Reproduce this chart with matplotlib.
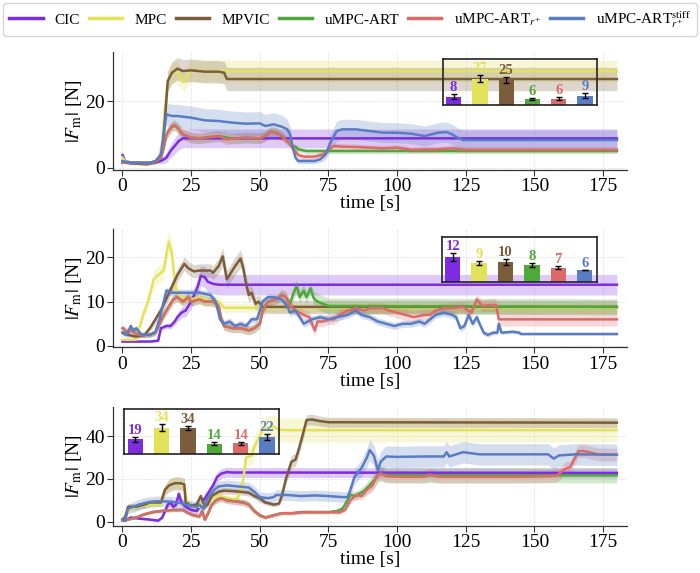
import numpy as np
import matplotlib
matplotlib.use("Agg")
import matplotlib.pyplot as plt

plt.rcParams['font.family'] = ['Liberation Serif', 'DejaVu Serif']
plt.rcParams['mathtext.fontset'] = 'stix'

# ---- series names / colours ----
names = ['CIC', 'MPC', 'MPVIC', 'uMPC-ART', r'uMPC-ART$_{r^{+}}$', r'uMPC-ART$_{r^{+}}^{\mathrm{stiff}}$']
colors = ['#7d2de1', '#e3e35a', '#7b5c3b', '#4fa83a', '#dd6a6a', '#5a7cc2']

# ================= panel 1 =================
T1_CIC = [0, 1, 3, 8, 12, 14, 16, 17.5, 19, 20.5, 22, 180]
Y1_CIC = [3.8, 2.0, 1.5, 1.5, 1.6, 2.0, 3.0, 5.0, 6.5, 8.0, 8.8, 8.8]
S1_CIC = [0.5, 0.4, 0.3, 0.3, 0.4, 0.8, 1.5, 2.0, 2.4, 2.6, 2.8, 2.8]

T1_MPC = [0, 1, 3, 10, 12, 13.5, 14.5, 15.5, 16.5, 18, 20, 21.5, 22.5, 23.5, 25, 30, 35, 180]
Y1_MPC = [3.0, 2.0, 1.5, 1.5, 2.0, 3.0, 8.0, 18.0, 26.0, 28.5, 28.5, 26.5, 26.0, 27.5, 29.0, 29.0, 29.0, 29.0]
S1_MPC = [0.5, 0.4, 0.3, 0.3, 0.5, 0.8, 1.5, 2.5, 3.0, 3.2, 3.2, 3.2, 3.2, 3.2, 3.2, 3.2, 3.2, 3.2]

T1_MPVIC = [0, 1, 3, 9, 12, 13, 14.5, 15.5, 16.5, 18, 20, 22, 25, 30, 35, 37, 38, 40, 180]
Y1_MPVIC = [1.8, 1.5, 1.3, 1.0, 1.5, 2.0, 5.0, 15.0, 26.0, 28.5, 29.7, 29.0, 29.2, 28.8, 28.8, 28.5, 26.6, 26.6, 26.6]
S1_MPVIC = [0.3, 0.3, 0.3, 0.3, 0.4, 0.6, 1.0, 2.0, 3.0, 3.2, 3.4, 3.4, 3.4, 3.4, 3.4, 3.4, 3.5, 3.5, 3.5]

T1_ART = [0, 3, 10, 12, 14, 15, 16, 18, 19, 20, 22, 25, 28, 30, 35, 40, 45, 50, 52, 54, 56, 58, 60, 62, 63, 64, 67, 70, 180]
Y1_ART = [1.5, 1.5, 1.3, 1.8, 3.0, 6.0, 10.0, 12.3, 12.6, 12.0, 10.0, 9.0, 8.8, 9.0, 9.5, 8.7, 9.0, 8.8, 9.5, 10.8, 10.5, 9.5, 8.0, 6.3, 6.3, 5.5, 5.0, 5.0, 5.0]
S1_ART = [0.2, 0.2, 0.2, 0.3, 0.6, 1.0, 1.5, 1.5, 1.5, 1.5, 1.5, 1.5, 1.5, 1.5, 1.5, 1.5, 1.5, 1.5, 1.5, 1.5, 1.5, 1.2, 1.0, 0.8, 0.8, 0.8, 0.8, 0.8, 0.8]

T1_RP = [0, 3, 10, 12, 14, 15, 16, 18, 19, 20, 22, 25, 28, 30, 33, 35, 38, 40, 45, 50, 52, 54, 56, 58, 60, 62, 64, 66, 70, 73,
         75, 77, 80, 85, 90, 95, 100, 105, 110, 115, 120, 125, 180]
Y1_RP = [1.5, 1.5, 1.3, 1.8, 3.0, 6.0, 10.0, 12.5, 12.8, 12.0, 10.0, 9.0, 8.8, 9.0, 9.3, 9.5, 8.5, 8.7, 9.0, 8.8, 9.5, 10.8, 10.5,
         9.5, 8.0, 6.0, 3.8, 3.3, 3.3, 4.0, 5.5, 6.5, 6.3, 6.2, 6.0, 5.8, 6.0, 5.4, 5.5, 5.5, 5.8, 5.4, 5.4]
S1_RP = [0.2, 0.2, 0.2, 0.3, 0.6, 1.0, 1.5, 1.6, 1.6, 1.6, 1.6, 1.6, 1.6, 1.6, 1.6, 1.6, 1.6, 1.6, 1.6, 1.6, 1.6, 1.6, 1.6,
         1.5, 1.2, 1.0, 0.8, 0.8, 0.8, 0.8, 0.8, 0.9, 0.9, 0.9, 0.9, 0.9, 0.9, 0.9, 0.9, 0.9, 0.9, 0.9, 0.9]

T1_ST = [0, 3, 10, 12, 14, 15, 16, 18, 20, 25, 30, 35, 40, 45, 50, 52, 55, 58, 60, 61, 62, 63, 64, 66, 70, 72, 74, 76, 78,
         80, 85, 90, 95, 100, 105, 110, 115, 118, 120, 122, 124, 125, 180]
Y1_ST = [2.0, 1.5, 1.5, 2.0, 4.0, 10.0, 16.0, 15.5, 15.5, 15.0, 14.2, 14.0, 13.5, 13.2, 13.3, 12.5, 13.0, 12.3, 11.5, 10.0,
         6.0, 3.0, 2.0, 2.0, 2.0, 2.5, 4.0, 8.0, 11.0, 11.5, 11.5, 11.0, 10.5, 10.5, 10.2, 9.5, 10.5, 10.7, 10.0, 9.0, 8.3,
         8.3, 8.3]
S1_ST = [0.3, 0.3, 0.3, 0.4, 1.0, 2.0, 3.5, 3.5, 3.5, 3.5, 3.5, 3.5, 3.5, 3.5, 3.5, 3.5, 3.5, 3.5, 3.0, 2.5,
         1.5, 1.0, 0.8, 0.8, 0.8, 1.0, 1.5, 2.5, 3.0, 3.0, 3.0, 3.0, 3.0, 3.0, 3.0, 3.0, 3.0, 3.0, 3.0, 3.0, 3.0,
         3.0, 3.0]

# ================= panel 2 =================
T2_CIC = [0, 5, 10, 13, 14, 16, 17.5, 19, 20, 21.5, 23, 25, 26.5, 27.5, 28.5, 30, 31, 33, 35, 180]
Y2_CIC = [1.0, 1.0, 1.0, 1.2, 4.0, 4.5, 4.5, 5.5, 6.5, 7.5, 8.0, 10.0, 12.0, 13.5, 15.8, 15.5, 14.5, 14.0, 13.8, 13.8]
S2_CIC = [0.2, 0.2, 0.2, 0.3, 0.5, 0.6, 0.7, 0.8, 1.0, 1.2, 1.4, 1.6, 1.8, 2.0, 2.2, 2.3, 2.3, 2.3, 2.3, 2.3]

T2_MPC = [0, 5, 5.6, 7.5, 9.3, 11.3, 13, 15, 16.8, 18, 19.3, 21, 25, 28, 33, 35, 37, 40, 50, 180]
Y2_MPC = [1.4, 1.4, 3.0, 7.0, 10.0, 14.9, 16.0, 17.0, 23.5, 20.9, 13.0, 11.0, 10.5, 11.0, 10.0, 10.0, 8.6, 8.6, 8.6, 8.6]
S2_MPC = [0.3, 0.3, 0.5, 1.0, 1.5, 2.0, 2.0, 2.0, 2.5, 2.5, 2.0, 1.5, 1.2, 1.2, 1.2, 1.2, 1.0, 1.0, 1.0, 1.0]

T2_MPVIC = [0, 2, 5, 8, 10, 12, 14, 17, 18.5, 20, 22.5, 24, 26, 28, 32, 33, 35, 36.5, 38, 39, 41, 43, 44, 45, 46,
            47, 48.5, 49.5, 51, 180]
Y2_MPVIC = [3.0, 2.5, 2.1, 2.5, 4.0, 6.0, 8.0, 12.0, 14.0, 16.0, 18.5, 17.5, 16.8, 17.0, 17.0, 16.5, 18.0, 20.2, 15.0, 16.0,
            18.0, 19.7, 17.5, 14.0, 11.5, 12.0, 9.5, 10.0, 8.8, 8.8]
S2_MPVIC = [0.5, 0.5, 0.5, 0.5, 0.7, 1.0, 1.2, 1.4, 1.5, 1.5, 1.5, 1.5, 1.5, 1.5, 1.5, 1.5, 1.8, 2.0, 2.0, 2.0,
            2.0, 2.0, 2.0, 2.0, 1.8, 1.5, 1.5, 1.5, 1.5, 1.5]

T2_ART = [0, 2, 3, 6, 10, 12, 13.5, 15, 16, 17, 18.5, 20, 22, 24, 25, 28, 30, 33, 35, 36, 37, 40, 43, 46, 48, 50, 51, 53,
          56, 58, 59.5, 61, 62.3, 63.5, 64.5, 66, 67, 68.5, 69.5, 70, 71, 73, 75, 180]
Y2_ART = [4.0, 3.0, 3.5, 2.5, 2.5, 3.0, 5.0, 7.0, 8.0, 9.0, 10.5, 11.0, 10.0, 11.0, 10.0, 10.5, 10.0, 10.0, 9.0, 6.0, 4.5,
          4.0, 4.0, 3.5, 4.0, 5.0, 8.0, 10.0, 10.5, 11.5, 11.0, 9.5, 12.0, 13.5, 11.0, 12.5, 11.0, 13.0, 11.0, 10.5,
          10.0, 9.5, 9.0, 8.8]
S2_ART = [0.8, 0.8, 0.8, 0.6, 0.6, 0.6, 0.8, 1.0, 1.0, 1.0, 1.0, 1.0, 1.0, 1.0, 1.0, 1.0, 1.0, 1.0, 1.0, 1.0, 1.0,
          1.0, 1.0, 1.0, 1.0, 1.0, 1.0, 1.0, 1.0, 1.2, 1.2, 1.3, 1.5, 1.5, 1.5, 1.5, 1.5, 1.5, 1.5, 1.8,
          1.8, 1.8, 1.8, 1.8]

T2_RP = [0, 2, 3, 6, 10, 12, 13.5, 15, 16, 17, 18.5, 20, 22, 24, 25, 28, 30, 33, 35, 36, 37, 40, 43, 46, 48, 50, 51, 53,
         56, 58, 59.5, 61, 63, 66, 68, 70, 71, 73, 75, 77, 79, 82, 85, 88, 90, 95, 97, 100, 103, 106, 110, 112, 114,
         117, 120, 124, 127, 129, 131, 133, 136, 137, 180]
Y2_RP = [4.0, 3.0, 3.5, 2.5, 2.5, 3.0, 5.0, 7.0, 8.0, 9.0, 10.5, 11.0, 10.0, 11.0, 10.0, 10.5, 10.0, 10.0, 9.0, 6.0, 4.5,
         4.0, 4.0, 3.5, 4.0, 5.0, 8.0, 10.0, 10.5, 11.5, 11.0, 9.0, 8.0, 7.0, 6.5, 3.5, 5.5, 5.5, 6.0, 6.0, 7.0, 8.0,
         8.5, 8.0, 8.5, 8.5, 8.0, 7.5, 7.0, 6.5, 7.0, 7.0, 8.0, 8.5, 8.5, 8.8, 7.5, 10.5, 9.0, 9.2, 9.2, 6.0, 6.0]
S2_RP = [0.8, 0.8, 0.8, 0.6, 0.6, 0.6, 0.8, 1.0, 1.0, 1.0, 1.0, 1.0, 1.0, 1.0, 1.0, 1.0, 1.0, 1.0, 1.0, 1.0, 1.0,
         1.0, 1.0, 1.0, 1.0, 1.0, 1.0, 1.0, 1.0, 1.2, 1.2, 1.2, 1.2, 1.2, 1.2, 1.2, 1.2, 1.2, 1.2, 1.2, 1.2, 1.2,
         1.2, 1.2, 1.2, 1.2, 1.2, 1.2, 1.2, 1.2, 1.2, 1.2, 1.2, 1.2, 1.2, 1.2, 1.2, 1.2, 1.3, 1.4, 1.5, 1.5, 1.5]

T2_ST = [0, 1.5, 3, 4, 5, 7, 10, 12, 13.5, 15, 16, 18, 20, 25, 28, 32, 34, 35.5, 37, 39, 41, 43, 45, 47, 49, 50, 51, 53,
         55, 58, 60, 61, 63, 66, 69, 72, 75, 78, 82, 85, 87, 90, 93, 96, 99, 102, 105, 108, 110, 112, 114, 117, 120,
         121.5, 123, 124.5, 126, 127.5, 129, 130, 131.5, 133, 135, 136.5, 137, 138, 142, 144.5, 145, 180]
Y2_ST = [2.9, 2.5, 4.5, 3.5, 4.0, 2.5, 2.5, 3.2, 6.0, 10.0, 12.5, 12.0, 12.0, 12.0, 12.0, 11.5, 10.0, 6.0, 5.0, 5.5,
         4.5, 5.0, 4.5, 6.0, 6.0, 8.0, 10.0, 11.0, 11.0, 10.5, 9.0, 7.5, 8.0, 5.0, 6.0, 6.5, 6.0, 6.5, 7.0, 8.0, 7.0,
         6.5, 5.5, 5.0, 4.5, 5.0, 5.0, 5.5, 5.0, 6.0, 7.0, 7.5, 7.0, 6.5, 4.0, 4.5, 7.0, 5.0, 6.5, 5.0, 3.0, 2.5, 3.0,
         3.0, 5.0, 3.0, 3.2, 3.0, 2.7, 2.7]
S2_ST = [0.5, 0.5, 0.6, 0.6, 0.6, 0.5, 0.5, 0.5, 0.6, 0.8, 0.8, 0.8, 0.8, 0.8, 0.8, 0.8, 0.8, 0.8, 0.8, 0.8,
         0.8, 0.8, 0.8, 0.8, 0.8, 0.8, 0.8, 0.8, 0.8, 0.8, 0.8, 0.8, 0.8, 0.8, 0.8, 0.8, 0.8, 0.8, 0.8, 0.8, 0.8,
         0.8, 0.8, 0.8, 0.8, 0.8, 0.8, 0.8, 0.8, 0.8, 0.8, 0.8, 0.8, 0.8, 0.8, 0.8, 0.8, 0.8, 0.8, 0.8, 0.6, 0.5, 0.5,
         0.5, 0.5, 0.4, 0.4, 0.4, 0.3, 0.3]

# ================= panel 3 =================
T3_CIC = [0, 1, 3, 6, 10, 13, 14.5, 15.5, 16.5, 17.5, 18.5, 19.5, 20.5, 21.5, 23, 25, 27, 28.5, 30, 31.5, 33, 34.5,
          36, 38, 40, 50, 180]
Y3_CIC = [1.0, 0.5, 2.0, 1.5, 1.0, 0.5, 2.0, 5.0, 8.0, 9.0, 7.0, 8.0, 13.0, 9.0, 7.0, 5.5, 5.0, 8.0, 11.0, 14.0, 17.0,
          21.0, 22.5, 23.2, 23.0, 23.0, 22.8]
S3_CIC = [0.3, 0.3, 0.5, 0.5, 0.5, 0.5, 0.8, 1.2, 1.5, 1.8, 1.8, 1.8, 2.0, 2.0, 1.8, 1.5, 1.5, 1.6, 1.8, 2.0, 2.2,
          2.3, 2.3, 2.3, 2.3, 2.3, 2.3]

T3_MPC = [0, 1.5, 3, 6, 10, 14, 15, 17, 19, 21, 22.5, 23.5, 25, 28, 29, 30, 32, 34, 37, 40, 42, 43, 44, 45, 47, 48, 50,
          51, 53, 55, 57, 60, 180]
Y3_MPC = [1.0, 4.0, 6.0, 7.0, 8.0, 8.0, 14.0, 17.0, 18.2, 17.5, 17.0, 9.0, 7.5, 7.0, 9.0, 7.0, 10.0, 12.0, 11.5, 10.5,
          11.0, 15.0, 20.0, 30.0, 31.0, 35.0, 40.0, 43.0, 44.0, 44.5, 43.0, 42.8, 42.8]
S3_MPC = [0.3, 0.8, 1.0, 1.0, 1.0, 1.0, 2.0, 2.5, 3.0, 3.0, 3.0, 1.5, 1.2, 1.2, 1.2, 1.2, 1.2, 1.5, 1.5, 1.5,
          1.5, 2.0, 3.0, 4.0, 4.5, 5.0, 5.5, 5.5, 5.5, 5.5, 5.5, 5.5, 5.5]

T3_MPVIC = [0, 1, 2, 5, 8, 10, 14, 15.5, 17, 19, 21, 22.5, 23, 25, 27, 28.5, 30, 31, 32.5, 35, 37, 40, 43, 46, 48, 50,
            52, 55, 57, 58, 59.5, 61.5, 63, 64, 65.5, 67, 69, 72, 75, 180]
Y3_MPVIC = [1.0, 2.0, 7.0, 7.0, 8.0, 9.0, 9.0, 15.0, 17.0, 18.0, 18.0, 17.5, 9.0, 7.5, 8.0, 12.0, 7.0, 8.0, 12.0, 14.0,
            14.5, 14.3, 14.0, 13.5, 12.0, 11.0, 9.0, 8.0, 8.5, 12.0, 20.0, 28.0, 29.0, 33.0, 40.0, 47.5, 47.8, 47.0, 46.5,
            46.3]
S3_MPVIC = [0.3, 0.5, 1.5, 1.5, 1.5, 1.5, 1.5, 2.5, 3.0, 3.0, 3.0, 3.0, 1.5, 1.2, 1.2, 1.5, 1.2, 1.2, 1.5, 1.5,
            1.5, 1.5, 1.5, 1.5, 1.5, 1.5, 1.2, 1.0, 1.0, 1.5, 2.5, 3.0, 3.0, 3.0, 3.0, 2.5, 2.5, 2.3, 2.3,
            2.3]

T3_ART = [0, 2, 5, 8, 11, 14, 18, 22, 24, 26, 28, 29, 30, 31, 32.5, 34, 36, 38, 41, 44, 46, 48, 50, 52, 55, 58, 62,
          65, 70, 75, 78, 80, 81, 83, 85, 86, 88, 90, 92, 93, 94, 96, 180]
Y3_ART = [0.5, 1.0, 2.0, 3.5, 4.5, 5.0, 5.5, 5.5, 4.0, 3.0, 2.5, 5.0, 1.0, 3.5, 8.0, 10.0, 11.0, 10.0, 9.5, 9.0, 8.0,
          5.0, 3.0, 2.0, 3.0, 4.0, 4.0, 4.5, 4.5, 4.5, 5.0, 6.0, 8.0, 12.5, 12.0, 13.0, 14.5, 17.0, 20.0, 22.0, 22.5,
          21.8, 21.7]
S3_ART = [0.3, 0.4, 0.5, 0.6, 0.7, 0.8, 0.8, 0.8, 0.8, 0.8, 0.8, 1.0, 1.0, 1.0, 1.2, 1.5, 1.5, 1.5, 1.5, 1.5, 1.5,
          1.2, 1.0, 0.8, 0.8, 0.8, 0.8, 0.8, 0.8, 0.8, 0.8, 1.0, 1.5, 2.0, 2.0, 2.0, 2.5, 3.0, 3.5, 3.5, 3.5,
          3.5, 3.5]

T3_RP = [0, 2, 5, 8, 11, 14, 18, 22, 24, 26, 28, 29, 30, 31, 32.5, 34, 36, 38, 41, 44, 46, 48, 50, 52, 55, 58, 62, 66,
         70, 75, 79, 81, 83, 85, 87, 89, 91, 93, 94, 96, 100, 110, 112, 115, 130, 145, 155, 158, 160, 161.5, 163, 164,
         166, 168, 170, 173, 180]
Y3_RP = [0.5, 1.0, 2.0, 3.5, 4.5, 5.0, 5.5, 5.5, 4.0, 3.0, 2.5, 5.0, 1.0, 3.5, 8.0, 10.0, 11.0, 10.0, 9.5, 9.0, 8.0,
         5.0, 3.0, 2.0, 3.0, 4.0, 4.0, 4.5, 4.5, 4.5, 4.3, 5.5, 10.0, 12.5, 12.0, 15.0, 17.0, 22.0, 22.5, 21.3, 21.0,
         21.0, 22.0, 21.0, 21.0, 21.0, 21.3, 21.5, 23.5, 25.0, 25.5, 28.0, 33.0, 33.0, 32.5, 31.5, 31.3]
S3_RP = [0.3, 0.4, 0.5, 0.6, 0.7, 0.8, 0.8, 0.8, 0.8, 0.8, 0.8, 1.0, 1.0, 1.0, 1.2, 1.5, 1.5, 1.5, 1.5, 1.5, 1.5,
         1.2, 1.0, 0.8, 0.8, 0.8, 0.8, 0.8, 0.8, 0.8, 0.8, 1.0, 1.5, 2.0, 2.0, 2.5, 3.0, 3.0, 3.0, 3.0, 3.0,
         3.0, 3.0, 3.0, 3.0, 3.0, 3.0, 3.0, 3.0, 3.0, 3.0, 3.0, 3.0, 3.0, 3.0, 3.0, 3.0]

T3_ST = [0, 1, 2, 4, 6, 9, 12, 16, 20, 22, 25, 27, 28, 29.5, 31, 33.5, 35, 38, 42, 46, 48, 50, 53, 55, 56, 60, 65, 70,
         75, 80, 82, 83, 84.5, 87, 89, 90, 91.5, 93, 94, 96, 100, 110, 117, 118, 119, 124, 127, 130, 155, 157, 159,
         165, 180]
Y3_ST = [1.0, 0.5, 6.0, 7.0, 8.0, 9.0, 9.5, 9.5, 9.0, 8.5, 7.5, 7.0, 8.0, 6.0, 11.0, 15.0, 16.5, 17.0, 16.5, 16.0, 14.0,
         11.5, 11.0, 11.5, 12.5, 12.5, 12.0, 12.3, 12.0, 11.5, 11.5, 15.0, 21.0, 25.0, 30.0, 33.5, 31.0, 24.0, 28.0, 30.5,
         30.3, 30.5, 30.5, 32.5, 30.5, 32.5, 32.0, 31.5, 31.5, 29.5, 31.0, 31.5, 31.3]
S3_ST = [0.3, 0.3, 2.0, 2.5, 2.5, 2.5, 2.5, 2.5, 2.5, 2.5, 2.5, 2.5, 2.5, 2.5, 2.5, 2.5, 2.5, 2.5, 2.5, 2.5, 2.5,
         2.5, 2.5, 2.5, 2.5, 2.5, 2.5, 2.5, 2.5, 2.5, 2.5, 3.0, 3.5, 4.0, 4.5, 5.0, 5.0, 5.0, 5.0, 5.0, 5.0,
         5.0, 5.0, 5.0, 5.0, 5.0, 5.0, 5.0, 5.0, 5.0, 5.0, 5.0, 5.0]

# ---- inset bar values (mean, error, printed label) ----
BAR1 = [8.2, 26.6, 25.2, 6.3, 6.5, 9.3]
ERR1 = [2.4, 3.2, 2.7, 1.1, 1.1, 2.4]
LAB1 = [8, 27, 25, 6, 6, 9]
BAR2 = [12.0, 9.0, 9.6, 8.2, 6.95, 5.8]
ERR2 = [2.0, 1.0, 1.4, 0.9, 0.6, 0.2]
LAB2 = [12, 9, 10, 8, 7, 6]
BAR3 = [19.0, 34.0, 33.6, 13.6, 13.9, 21.8]
ERR3 = [3.4, 4.2, 2.1, 2.3, 1.9, 3.6]
LAB3 = [19, 34, 34, 14, 14, 22]

panels = [
    dict(series=[(T1_CIC, Y1_CIC, S1_CIC), (T1_MPC, Y1_MPC, S1_MPC), (T1_MPVIC, Y1_MPVIC, S1_MPVIC),
                 (T1_ART, Y1_ART, S1_ART), (T1_RP, Y1_RP, S1_RP), (T1_ST, Y1_ST, S1_ST)],
         ylim=(-0.7, 34.8), yticks=[0, 20], bars=(BAR1, ERR1, LAB1), blim=46,
         pos=[0.162, 0.7033, 0.733, 0.2065], inset=[0.6416, 0.5494, 0.3005, 0.3864]),
    dict(series=[(T2_CIC, Y2_CIC, S2_CIC), (T2_MPC, Y2_MPC, S2_MPC), (T2_MPVIC, Y2_MPVIC, S2_MPVIC),
                 (T2_ART, Y2_ART, S2_ART), (T2_RP, Y2_RP, S2_RP), (T2_ST, Y2_ST, S2_ST)],
         ylim=(-0.3, 26.3), yticks=[0, 10, 20], bars=(BAR2, ERR2, LAB2), blim=21.3,
         pos=[0.162, 0.3939, 0.733, 0.206], inset=[0.6397, 0.5508, 0.302, 0.381]),
    dict(series=[(T3_CIC, Y3_CIC, S3_CIC), (T3_MPC, Y3_MPC, S3_MPC), (T3_MPVIC, Y3_MPVIC, S3_MPVIC),
                 (T3_ART, Y3_ART, S3_ART), (T3_RP, Y3_RP, S3_RP), (T3_ST, Y3_ST, S3_ST)],
         ylim=(-2.0, 53.7), yticks=[0, 20, 40], bars=(BAR3, ERR3, LAB3), blim=57,
         pos=[0.162, 0.082, 0.733, 0.208], inset=[0.0208, 0.601, 0.302, 0.377]),
]

fig = plt.figure(figsize=(7.0, 5.73), dpi=100)

for p in panels:
    ax = fig.add_axes(p['pos'])
    for (t, y, s), c in zip(p['series'], colors):
        t = np.array(t); y = np.array(y); s = np.array(s)
        ax.fill_between(t, y - s, y + s, color=c, alpha=0.25, lw=0)
        ax.plot(t, y, color=c, lw=1.8)
    ax.set_xlim(-3.3, 183.5)
    ax.set_ylim(*p['ylim'])
    ax.set_xticks([0, 25, 50, 75, 100, 125, 150, 175])
    ax.set_yticks(p['yticks'])
    ax.grid(True, color='#e6e6e6', lw=0.6, ls='--')
    ax.set_axisbelow(True)
    for sp in ['top', 'right']:
        ax.spines[sp].set_visible(False)
    for sp in ['left', 'bottom']:
        ax.spines[sp].set_color('#333333')
        ax.spines[sp].set_linewidth(0.9)
    ax.tick_params(labelsize=14, length=4, width=0.8, color='#333333', pad=2)
    ax.set_xlabel('time [s]', fontsize=14, labelpad=0)
    ax.set_ylabel(r'$|F_{\mathrm{m}}|$ [N]', fontsize=14, labelpad=1)

    # inset bar chart
    vals, errs, labs = p['bars']
    ins = ax.inset_axes(p['inset'])
    ins.set_facecolor('none')
    xs = np.arange(len(vals))
    ins.bar(xs, vals, width=0.58, color=colors, yerr=errs, capsize=2.5,
            error_kw=dict(ecolor='black', elinewidth=1.0, capthick=1.0))
    for x, v, e, l, c in zip(xs, vals, errs, labs, colors):
        ins.annotate(str(l), (x, v + e), xytext=(0, 0), textcoords='offset points',
                     ha='center', va='bottom', color=c, fontsize=10.5, fontweight='bold')
    ins.set_xlim(-0.42, 5.45)
    ins.set_ylim(0, p['blim'])
    ins.set_xticks([]); ins.set_yticks([])
    for sp in ins.spines.values():
        sp.set_color('#222222')
        sp.set_linewidth(1.2)

handles = [plt.Line2D([], [], color=c, lw=2.5) for c in colors]
fig.legend(handles, names, loc='upper left', bbox_to_anchor=(0.004, 0.937, 0.992, 0.058),
           mode='expand', ncol=6, fontsize=11, handlelength=2.2, borderaxespad=0,
           frameon=True, edgecolor='#cccccc', fancybox=True)

fig.savefig('out.png', dpi=100)
